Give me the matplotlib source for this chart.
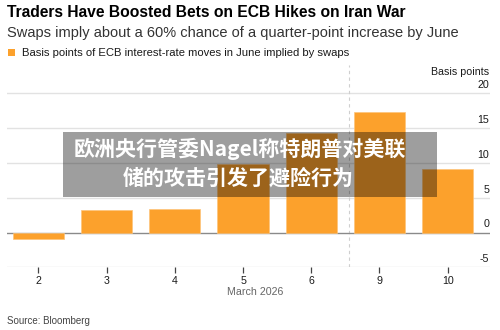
import matplotlib
matplotlib.use("Agg")
import matplotlib.pyplot as plt
from matplotlib.patches import Rectangle

# ---- data ----
categories = ["2", "3", "4", "5", "6", "9", "10"]
values = [-1.0, 3.3, 3.4, 9.8, 14.3, 17.3, 9.1]
yticks = [-5, 0, 5, 10, 15, 20]
title = "Traders Have Boosted Bets on ECB Hikes on Iran War"
subtitle = "Swaps imply about a 60% chance of a quarter-point increase by June"
legend_label = "Basis points of ECB interest-rate moves in June implied by swaps"
x_label = "March 2026"
y_unit = "Basis points"
source = "Source: Bloomberg"
overlay_lines = ["欧洲央行管委Nagel称特朗普对美联", "储的攻击引发了避险行为"]

ORANGE = "#FCA12C"
W, H = 500, 330

plt.rcParams["font.family"] = ["Liberation Sans", "DejaVu Sans"]

fig = plt.figure(figsize=(W / 100, H / 100), dpi=100)
fig.patch.set_facecolor("white")

def fx(px):
    return px / W

def fy(py):
    return 1 - py / H

ax_left, ax_right = 7, 490
ax_top, ax_bottom = 65, 267.3
ax = fig.add_axes([fx(ax_left), fy(ax_bottom), fx(ax_right - ax_left), (ax_bottom - ax_top) / H])

xpos = list(range(len(categories)))
ax.bar(xpos, values, width=0.75, color=ORANGE, edgecolor="#FDC47A", linewidth=0.5, zorder=3)

ax.set_xlim(-0.46, 6.62)
ax.set_ylim(-5, 24.07)

# gridlines
for v in yticks:
    if v == 0:
        ax.axhline(v, color="#8a8a8a", linewidth=1.0, zorder=2)
    else:
        ax.axhline(v, color="#e2e2e2", linewidth=1.0, zorder=1)
    ax.annotate(str(v), xy=(1, v), xycoords=("axes fraction", "data"),
                xytext=(-0.5, 2.2), textcoords="offset points",
                ha="right", va="bottom", fontsize=7.7, color="#1a1a1a")

ax.annotate(y_unit, xy=(1, 20), xycoords=("axes fraction", "data"),
            xytext=(-0.5, 11.5), textcoords="offset points",
            ha="right", va="bottom", fontsize=7.7, color="#1a1a1a")

# break marker
ax.axvline(4.55, color="#cfcfcf", linewidth=0.8, linestyle=(0, (3, 3)), zorder=1)

for s in ax.spines.values():
    s.set_visible(False)
ax.set_yticks([])
ax.set_xticks(xpos)
ax.set_xticklabels(categories, fontsize=7.7, color="#1a1a1a")
ax.tick_params(axis="x", length=4, width=0.9, color="#444444", pad=2.5)
ax.set_xlabel(x_label, fontsize=7.7, color="#666666", labelpad=2)
ax.xaxis.set_label_coords(0.514, -0.095)
ax.set_facecolor("none")

# header texts
fig.text(fx(7), fy(12.5), title, fontsize=11.25, fontweight="bold", color="#000000", va="center", ha="left")
fig.text(fx(7), fy(32.5), subtitle, fontsize=10.55, color="#333333", va="center", ha="left")
fig.patches.append(Rectangle((fx(8.3), fy(56)), fx(6.7), 6.7 / H, transform=fig.transFigure,
                             facecolor=ORANGE, edgecolor="none"))
fig.text(fx(22.3), fy(52.7), legend_label, fontsize=8.1, color="#1a1a1a", va="center", ha="left")
fig.text(fx(7), fy(321.3), source, fontsize=7.0, color="#444444", va="center", ha="left")

# overlay banner
fig.patches.append(Rectangle((fx(62.5), fy(196.7)), fx(436.5 - 62.5), 65 / H, transform=fig.transFigure,
                             facecolor="black", alpha=0.38, edgecolor="none", zorder=10))
fig.text(fx(240), fy(149), overlay_lines[0], fontsize=15.1, fontweight="heavy", color="white",
         ha="center", va="center", family=["Noto Sans CJK SC", "DejaVu Sans"], zorder=11)
fig.text(fx(238), fy(178.3), overlay_lines[1], fontsize=15.1, fontweight="heavy", color="white",
         ha="center", va="center", family=["Noto Sans CJK SC", "DejaVu Sans"], zorder=11)

fig.savefig("out.png", dpi=100, facecolor="white")
